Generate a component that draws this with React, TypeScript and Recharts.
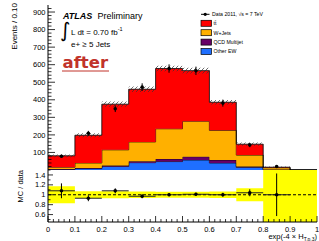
import React from 'react';
import { ComposedChart, Area, Scatter, ErrorBar, XAxis, YAxis, ReferenceLine } from 'recharts';

// bin edges of exp(-4 x H_T,p,3), 10 bins of 0.1
const binEdges = [0, 0.1, 0.2, 0.3, 0.4, 0.5, 0.6, 0.7, 0.8, 0.9, 1.0];
const binCenters = [0.05, 0.15, 0.25, 0.35, 0.45, 0.55, 0.65, 0.75, 0.85];

// stacked MC, events per bin (last bin 0.9-1.0 is empty)
const otherEW = [3, 8, 20, 42, 48, 57, 40, 15, 2];
const qcdMultijet = [3, 4, 6, 8, 15, 19, 17, 5, 1];
const wJets = [10, 28, 89, 110, 172, 202, 169, 65, 10];
const ttbar = [65, 158, 260, 300, 343, 288, 160, 62, 3];
const mcUncert = [8, 12, 15, 15, 16, 16, 13, 9, 4];

// data 2011
const data2011 = [78, 209, 349, 472, 578, 565, 381, 142, 20];
const dataErr = [9, 14, 19, 22, 24, 24, 20, 12, 4];

// ratio panel
const ratio = [1.08, 0.93, 1.08, 0.97, 1.0, 1.01, 1.0, 1.04, 1.0];
const ratioErr = [0.15, 0.06, 0.05, 0.04, 0.03, 0.03, 0.04, 0.07, 0.43];
const bandHalf = [0.17, 0.07, 0.07, 0.065, 0.06, 0.06, 0.065, 0.13, 1, 1];

const xLabels = [0, 0.1, 0.2, 0.3, 0.4, 0.5, 0.6, 0.7, 0.8, 0.9, 1];
const mainYLabels = [100, 200, 300, 400, 500, 600, 700, 800, 900];
const ratioYLabels = [0.6, 0.8, 1, 1.2, 1.4];

const legendItems = [
  { name: 't\u0074\u0304', color: '#ff0000' },
  { name: 'W+Jets', color: '#ffb000' },
  { name: 'QCD Multijet', color: '#660066' },
  { name: 'Other EW', color: '#1f6fff' },
];

const FONT = 'Liberation Sans, Arial, sans-serif';

const mainRows = binEdges.map((x, i) => {
  const k = Math.min(i, 9);
  const has = k < 9;
  const tot = has ? otherEW[k] + qcdMultijet[k] + wJets[k] + ttbar[k] : 0;
  return {
    x,
    otherEW: has ? otherEW[k] : 0,
    qcd: has ? qcdMultijet[k] : 0,
    wjets: has ? wJets[k] : 0,
    ttbar: has ? ttbar[k] : 0,
    band: has ? [tot - mcUncert[k], tot + mcUncert[k]] : [0, 0],
  };
});

const ratioRows = binEdges.map((x, i) => {
  const h = bandHalf[Math.min(i, 9)];
  return { x, band: [1 - h, 1 + h] };
});

const dataPoints = binCenters.map((x, i) => ({ x, y: data2011[i], ey: dataErr[i] }));
const ratioPoints = binCenters.map((x, i) => ({ x, y: ratio[i], ey: ratioErr[i], ex: 0.05 }));

const xTicks: number[] = [];
for (let i = 0; i <= 50; i++) xTicks.push(+(i * 0.02).toFixed(2));
const mainYTicks: number[] = [];
for (let v = 20; v <= 920; v += 20) mainYTicks.push(v);
const ratioYTicks: number[] = [];
for (let i = 5; i <= 15; i++) ratioYTicks.push(+(i * 0.1).toFixed(1));

type Side = 'left' | 'right' | 'top' | 'bottom';

function makeTick(side: Side, majors: number[], majorLen: number, minorLen: number, showLabel = false) {
  return (props: any) => {
    const { x, y, payload } = props;
    const v = payload.value;
    const isMajor = majors.some((m) => Math.abs(m - v) < 1e-6);
    const len = isMajor ? majorLen : minorLen;
    let x2 = x, y2 = y;
    if (side === 'left') x2 = x + len;
    if (side === 'right') x2 = x - len;
    if (side === 'bottom') y2 = y - len;
    if (side === 'top') y2 = y + len;
    return (
      <g>
        <line x1={x} y1={y} x2={x2} y2={y2} stroke="#000" strokeWidth={0.8} />
        {showLabel && isMajor && side === 'left' && (
          <text x={x - 2.5} y={y} dy="0.35em" textAnchor="end" fontSize={7.5} fontFamily={FONT} fill="#000">
            {String(v)}
          </text>
        )}
        {showLabel && isMajor && side === 'bottom' && (
          <text x={x} y={y + 9.5} textAnchor="middle" fontSize={7.5} fontFamily={FONT} fill="#000">
            {String(v)}
          </text>
        )}
      </g>
    );
  };
}

const dot = (p: any) => <circle cx={p.cx} cy={p.cy} r={1.8} fill="#000" />;

export default function App() {
  return (
    <div style={{ position: 'absolute', left: 0, top: 0, width: 319, height: 241, background: '#fff', overflow: 'hidden' }}>
      <svg width={0} height={0} style={{ position: 'absolute' }}>
        <defs>
          <pattern id="hatch" patternUnits="userSpaceOnUse" width={4} height={4}>
            <path d="M0,4 L4,0 M-1,1 L1,-1 M3,5 L5,3" stroke="#333" strokeWidth={0.7} />
          </pattern>
        </defs>
      </svg>

      <div style={{ position: 'absolute', left: 0, top: 0 }}>
        <ComposedChart width={319} height={172} data={mainRows} margin={{ top: 5, right: 2, bottom: 2, left: 0 }}>
          <XAxis xAxisId="b" dataKey="x" type="number" domain={[0, 1]} allowDataOverflow ticks={xTicks} interval={0}
            orientation="bottom" height={0} tickSize={0} tickMargin={0} tickLine={false}
            tick={makeTick('bottom', xLabels, 4.5, 2.3)} stroke="#000" />
          <XAxis xAxisId="t" dataKey="x" type="number" domain={[0, 1]} allowDataOverflow ticks={xTicks} interval={0}
            orientation="top" height={0} tickSize={0} tickMargin={0} tickLine={false}
            tick={makeTick('top', xLabels, 4.5, 2.3)} stroke="#000" />
          <YAxis yAxisId="l" type="number" domain={[0, 940]} allowDataOverflow ticks={mainYTicks} interval={0}
            width={48} tickSize={0} tickMargin={0} tickLine={false}
            tick={makeTick('left', mainYLabels, 7, 3.5, true)} stroke="#000" />
          <YAxis yAxisId="r" orientation="right" type="number" domain={[0, 940]} allowDataOverflow ticks={mainYTicks} interval={0}
            width={0} tickSize={0} tickMargin={0} tickLine={false}
            tick={makeTick('right', mainYLabels, 7, 3.5)} stroke="#000" />

          <Area xAxisId="b" yAxisId="l" dataKey="otherEW" stackId="mc" type="stepAfter" fill="#1f6fff" fillOpacity={1}
            stroke="#000" strokeWidth={0.8} isAnimationActive={false} />
          <Area xAxisId="b" yAxisId="l" dataKey="qcd" stackId="mc" type="stepAfter" fill="#660066" fillOpacity={1}
            stroke="#000" strokeWidth={0.8} isAnimationActive={false} />
          <Area xAxisId="b" yAxisId="l" dataKey="wjets" stackId="mc" type="stepAfter" fill="#ffb000" fillOpacity={1}
            stroke="#000" strokeWidth={0.8} isAnimationActive={false} />
          <Area xAxisId="b" yAxisId="l" dataKey="ttbar" stackId="mc" type="stepAfter" fill="#ff0000" fillOpacity={1}
            stroke="#000" strokeWidth={0.8} isAnimationActive={false} />
          <Area xAxisId="b" yAxisId="l" dataKey="band" type="stepAfter" fill="url(#hatch)" fillOpacity={1}
            stroke="none" isAnimationActive={false} />
          <Scatter xAxisId="b" yAxisId="l" data={dataPoints} dataKey="y" shape={dot} isAnimationActive={false}>
            <ErrorBar dataKey="ey" direction="y" width={0} stroke="#000" strokeWidth={1} />
          </Scatter>
        </ComposedChart>
      </div>

      <div style={{ position: 'absolute', left: 0, top: 165 }}>
        <ComposedChart width={319} height={76} data={ratioRows} margin={{ top: 5, right: 2, bottom: 0, left: 0 }}>
          <XAxis xAxisId="b" dataKey="x" type="number" domain={[0, 1]} allowDataOverflow ticks={xTicks} interval={0}
            orientation="bottom" height={19} tickSize={0} tickMargin={0} tickLine={false}
            tick={makeTick('bottom', xLabels, 6, 3, true)} stroke="#000" />
          <YAxis yAxisId="l" type="number" domain={[0.45, 1.5]} allowDataOverflow ticks={ratioYTicks} interval={0}
            width={48} tickSize={0} tickMargin={0} tickLine={false}
            tick={makeTick('left', ratioYLabels, 5, 2.5, true)} stroke="#000" />
          <YAxis yAxisId="r" orientation="right" type="number" domain={[0.45, 1.5]} allowDataOverflow ticks={ratioYTicks} interval={0}
            width={0} tickSize={0} tickMargin={0} tickLine={false}
            tick={makeTick('right', ratioYLabels, 5, 2.5)} stroke="#000" />
          <Area xAxisId="b" yAxisId="l" dataKey="band" type="stepAfter" fill="#ffff00" fillOpacity={1}
            stroke="none" isAnimationActive={false} />
          <ReferenceLine xAxisId="b" yAxisId="l" y={1} stroke="#000" strokeWidth={1} strokeDasharray="3 2" />
          <Scatter xAxisId="b" yAxisId="l" data={ratioPoints} dataKey="y" shape={dot} isAnimationActive={false}>
            <ErrorBar dataKey="ey" direction="y" width={0} stroke="#000" strokeWidth={1} />
            <ErrorBar dataKey="ex" direction="x" width={0} stroke="#222" strokeWidth={1} />
          </Scatter>
        </ComposedChart>
      </div>

      <svg width={319} height={241} style={{ position: 'absolute', left: 0, top: 0, pointerEvents: 'none' }}>
        <text transform="translate(16.5,3) rotate(-90)" textAnchor="end" fontSize={8} fontFamily={FONT}>Events / 0.10</text>
        <text transform="translate(23,170) rotate(-90)" textAnchor="end" fontSize={7.5} fontFamily={FONT}>MC / data</text>
        <text x={317} y={239} textAnchor="end" fontSize={7.5} fontFamily={FONT}>
          exp(-4 × H<tspan fontSize={5} dy={1.5}>T,p,3</tspan><tspan dy={-1.5}>)</tspan>
        </text>

        <text x={63} y={18.5} fontSize={9} fontFamily={FONT} fontWeight="bold" fontStyle="italic">ATLAS</text>
        <text x={97.5} y={18.5} fontSize={9} fontFamily={FONT}>Preliminary</text>
        <text x={60} y={37} fontSize={20} fontFamily="DejaVu Sans, sans-serif">∫</text>
        <text x={71} y={34.5} fontSize={8} fontFamily={FONT}>
          L dt = 0.70 fb<tspan fontSize={5.5} dy={-3.5}>-1</tspan>
        </text>
        <text x={71} y={47} fontSize={8} fontFamily={FONT}>e+ ≥ 5 Jets</text>
        <text x={62.5} y={68} fontSize={16.5} fontFamily="DejaVu Sans, sans-serif" fontWeight="bold" fill="#c1332a">after</text>
        <line x1={62} y1={71} x2={109} y2={71} stroke="#c1332a" strokeWidth={1} />

        <line x1={201} y1={14.3} x2={209.5} y2={14.3} stroke="#000" strokeWidth={1} />
        <circle cx={205.2} cy={14.3} r={1.6} fill="#000" />
        <text x={212} y={14.3} dy="0.35em" fontSize={5.2} fontFamily={FONT}>Data 2011, √s = 7 TeV</text>
        {legendItems.map((it, i) => {
          const cy = 23.3 + i * 9.4;
          return (
            <g key={it.name}>
              <rect x={201} y={cy - 3} width={10.5} height={6} fill={it.color} stroke="#000" strokeWidth={0.7} />
              <text x={213.5} y={cy} dy="0.35em" fontSize={5.2} fontFamily={FONT}>{it.name}</text>
            </g>
          );
        })}
      </svg>
    </div>
  );
}
